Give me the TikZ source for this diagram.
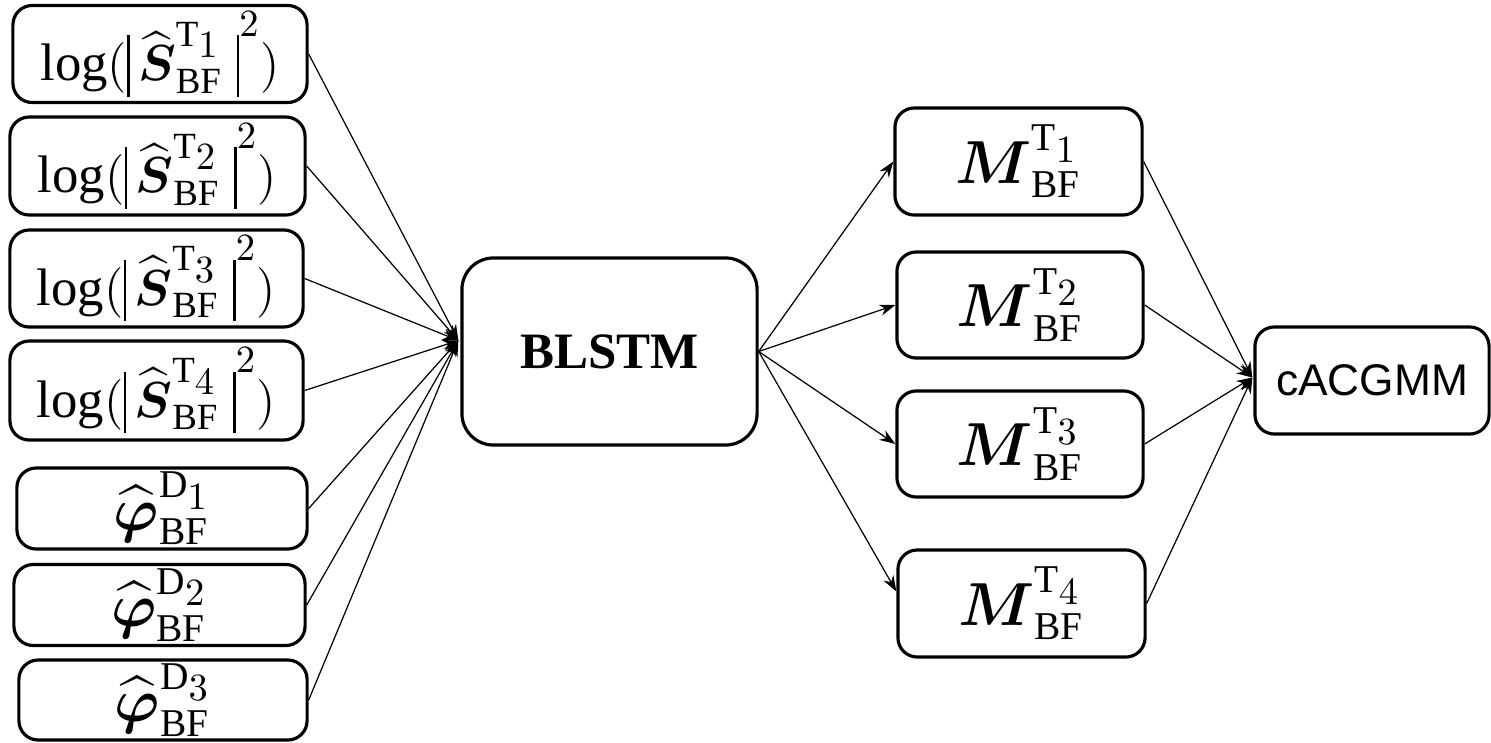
\documentclass[tikz,border=0pt]{standalone}
\usepackage{amsmath}
\usepackage{fontspec}
\setmainfont{Liberation Serif}
\newfontfamily\arialfont{Liberation Sans}
\usetikzlibrary{arrows.meta,calc}
\newcommand{\absbar}{\mathord{\vrule height 13pt depth 4.5pt width 0.7pt}}
\begin{document}
\begin{tikzpicture}[x=0.01cm,y=-0.01cm,
  box/.style={draw, line width=0.9pt, rounded corners=5.5pt, inner sep=0pt, align=center},
  conn/.style={line width=0.35pt, -{Stealth[length=4.5pt,width=3.2pt]}},
  big/.style={font=\fontsize{15}{18}\selectfont},
  mid/.style={font=\fontsize{16}{19}\selectfont}]
\useasboundingbox (0,0) rectangle (1491,742);
\newcommand{\Slog}[1]{$\log(\absbar\,\widehat{\boldsymbol{S}}^{\mathrm{T}_{\scriptstyle #1}}_{\mathrm{BF}}\;\absbar^{\raisebox{4pt}{$\scriptstyle 2$}})$}
\newcommand{\Phihat}[1]{$\widehat{\boldsymbol{\varphi}}^{\mathrm{D}_{\scriptstyle #1}}_{\mathrm{BF}}$}
\newcommand{\Mlab}[1]{$\boldsymbol{M}^{\mathrm{T}_{\scriptstyle #1}}_{\mathrm{BF}}$}
% left inputs
\node[box,big,minimum width=2.94cm,minimum height=0.97cm] (b1) at (160,54) {\Slog{1}};
\node[box,big,minimum width=2.95cm,minimum height=0.98cm] (b2) at (157.5,166) {\Slog{2}};
\node[box,big,minimum width=2.93cm,minimum height=0.97cm] (b3) at (156.5,278.5) {\Slog{3}};
\node[box,big,minimum width=2.93cm,minimum height=0.99cm] (b4) at (156.5,390.5) {\Slog{4}};
\node[box,mid,minimum width=2.90cm,minimum height=0.81cm] (b5) at (162,508.5) {\Phihat{1}};
\node[box,mid,minimum width=2.91cm,minimum height=0.81cm] (b6) at (159.5,605) {\Phihat{2}};
\node[box,mid,minimum width=2.88cm,minimum height=0.80cm] (b7) at (163,700) {\Phihat{3}};
% BLSTM
\node[box,rounded corners=9pt,minimum width=2.95cm,minimum height=1.87cm,font=\fontsize{14.5}{17}\selectfont\bfseries] (blstm) at (609.5,351.5) {BLSTM};
\coordinate (blin) at ($(blstm.west)+(-2,-11)$);
% masks
\node[box,mid,minimum width=2.47cm,minimum height=1.07cm] (m1) at (1018.5,161.5) {\Mlab{1}};
\node[box,mid,minimum width=2.46cm,minimum height=1.06cm] (m2) at (1020,305) {\Mlab{2}};
\node[box,mid,minimum width=2.46cm,minimum height=1.06cm] (m3) at (1020,444) {\Mlab{3}};
\node[box,mid,minimum width=2.47cm,minimum height=1.07cm] (m4) at (1021.5,603.5) {\Mlab{4}};
% cACGMM
\node[box,minimum width=2.34cm,minimum height=1.07cm,font=\arialfont\fontsize{12.6}{15}\selectfont] (cacg) at (1372,380.5) {cACGMM};
\coordinate (cin) at ($(cacg.west)+(-1,-3)$);
% connectors
\foreach \n in {b1,b2,b3,b4,b5,b6,b7} \draw[conn] (\n.east) -- (blin);
\foreach \n in {m1,m2,m3} \draw[conn] (blstm.east) -- (\n.west);
\draw[conn] (blstm.east) -- ($(m4.west)+(0,-12)$);
\foreach \n in {m1,m2,m3,m4} \draw[conn] (\n.east) -- (cin);
\end{tikzpicture}
\end{document}
